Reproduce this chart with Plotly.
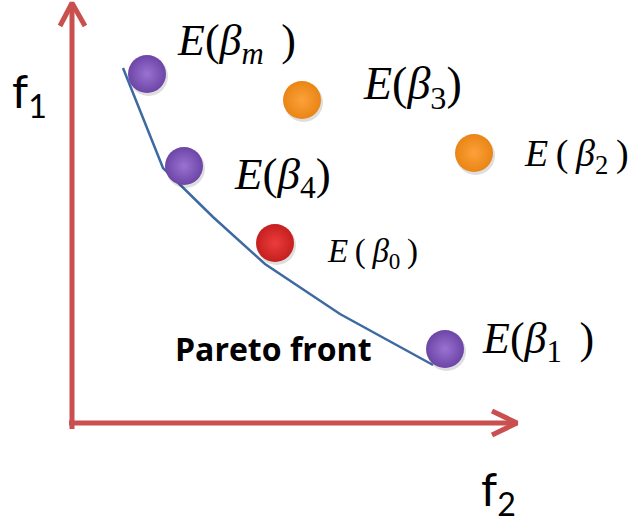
import plotly.graph_objects as go

# ---- data (f2 = horizontal objective, f1 = vertical objective) ----
point_names = ["β_m", "β_3", "β_2", "β_4", "β_0", "β_1"]
point_f2 = [147, 302, 474, 184, 275, 445]
point_f1 = [450, 424, 371, 358, 281, 175]
point_group = ["pareto", "dominated", "dominated", "pareto", "reference", "pareto"]

TS = "\u2009"
label_texts = [
    f"<i>E</i>(<i>β</i><sub><i>m</i></sub>{TS}{TS})",
    "<i>E</i>(<i>β</i><sub>3</sub>)",
    f"<i>E</i>{TS}({TS}<i>β</i><sub>2</sub>{TS})",
    "<i>E</i>(<i>β</i><sub>4</sub>)",
    f"<i>E</i>{TS}({TS}<i>β</i><sub>0</sub>{TS})",
    f"<i>E</i>(<i>β</i><sub>1</sub>{TS}{TS})",
]
label_f2 = [236, 412, 576, 282, 372, 538]
label_f1 = [481, 437, 368, 347, 271, 183]
label_sizes = [44, 46, 38, 45, 33, 44]

front_f2 = [123, 163, 213, 265, 340, 433]
front_f1 = [456, 356, 307, 260, 210, 159]

axis_origin = (72, 101)
axis_f2_end = 517
axis_f1_end = 521

colors = {
    "pareto": ("#6d45a6", "#9a72d2"),
    "dominated": ("#e98515", "#fca13a"),
    "reference": ("#c41f1f", "#ee3c3c"),
}

fig = go.Figure()

# axes (red arrows)
ax_col = "#c9504f"
ox, oy = axis_origin
fig.add_trace(go.Scatter(x=[ox, ox], y=[oy - 6, axis_f1_end - 2], mode="lines",
                         line=dict(color=ax_col, width=5), hoverinfo="skip", showlegend=False))
fig.add_trace(go.Scatter(x=[ox - 3, axis_f2_end - 2], y=[oy, oy], mode="lines",
                         line=dict(color=ax_col, width=5), hoverinfo="skip", showlegend=False))
fig.add_trace(go.Scatter(x=[ox - 12, ox, ox + 13], y=[axis_f1_end - 23, axis_f1_end, axis_f1_end - 23],
                         mode="lines", line=dict(color=ax_col, width=5), hoverinfo="skip", showlegend=False))
fig.add_trace(go.Scatter(x=[axis_f2_end - 25, axis_f2_end, axis_f2_end - 25], y=[oy + 12, oy, oy - 12],
                         mode="lines", line=dict(color=ax_col, width=5), hoverinfo="skip", showlegend=False))

# pareto front
fig.add_trace(go.Scatter(x=front_f2, y=front_f1, mode="lines", line=dict(color="#3d6aa0", width=2.5),
                         hoverinfo="skip", showlegend=False))

# shadows
fig.add_trace(go.Scatter(x=[v + 1.5 for v in point_f2], y=[v - 2.5 for v in point_f1], mode="markers",
                         marker=dict(size=39, color="rgba(0,0,0,0.13)", line=dict(width=0)),
                         hoverinfo="skip", showlegend=False))

# points
for g in ["pareto", "dominated", "reference"]:
    idx = [i for i, gg in enumerate(point_group) if gg == g]
    fig.add_trace(go.Scatter(
        x=[point_f2[i] for i in idx], y=[point_f1[i] for i in idx], mode="markers",
        marker=dict(size=38, color=colors[g][0],
                    gradient=dict(type="radial", color=colors[g][1]),
                    line=dict(width=0)),
        text=[point_names[i] for i in idx], hoverinfo="text", showlegend=False))

annotations = []
for t, x, y, s in zip(label_texts, label_f2, label_f1, label_sizes):
    annotations.append(dict(x=x, y=y, xref="x", yref="y", text=t, showarrow=False,
                            font=dict(family="Liberation Serif", size=s, color="black")))
annotations.append(dict(x=29, y=430, xref="x", yref="y", text="f<sub>1</sub>", showarrow=False,
                        font=dict(family="Lato", size=46, color="black")))
annotations.append(dict(x=498, y=32, xref="x", yref="y", text="f<sub>2</sub>", showarrow=False,
                        font=dict(family="Lato", size=46, color="black")))
annotations.append(dict(x=273, y=176, xref="x", yref="y", text="<b>Pareto front</b>", showarrow=False,
                        font=dict(family="Open Sans", size=32, color="black")))

fig.update_layout(
    width=632, height=524, margin=dict(l=0, r=0, t=0, b=0),
    paper_bgcolor="white", plot_bgcolor="white",
    xaxis=dict(range=[0, 632], visible=False, fixedrange=True),
    yaxis=dict(range=[0, 524], visible=False, fixedrange=True),
    annotations=annotations,
)

fig.write_html("out.html", config={"displayModeBar": False},
               post_script="document.body.style.margin='0';document.body.style.padding='0';")
